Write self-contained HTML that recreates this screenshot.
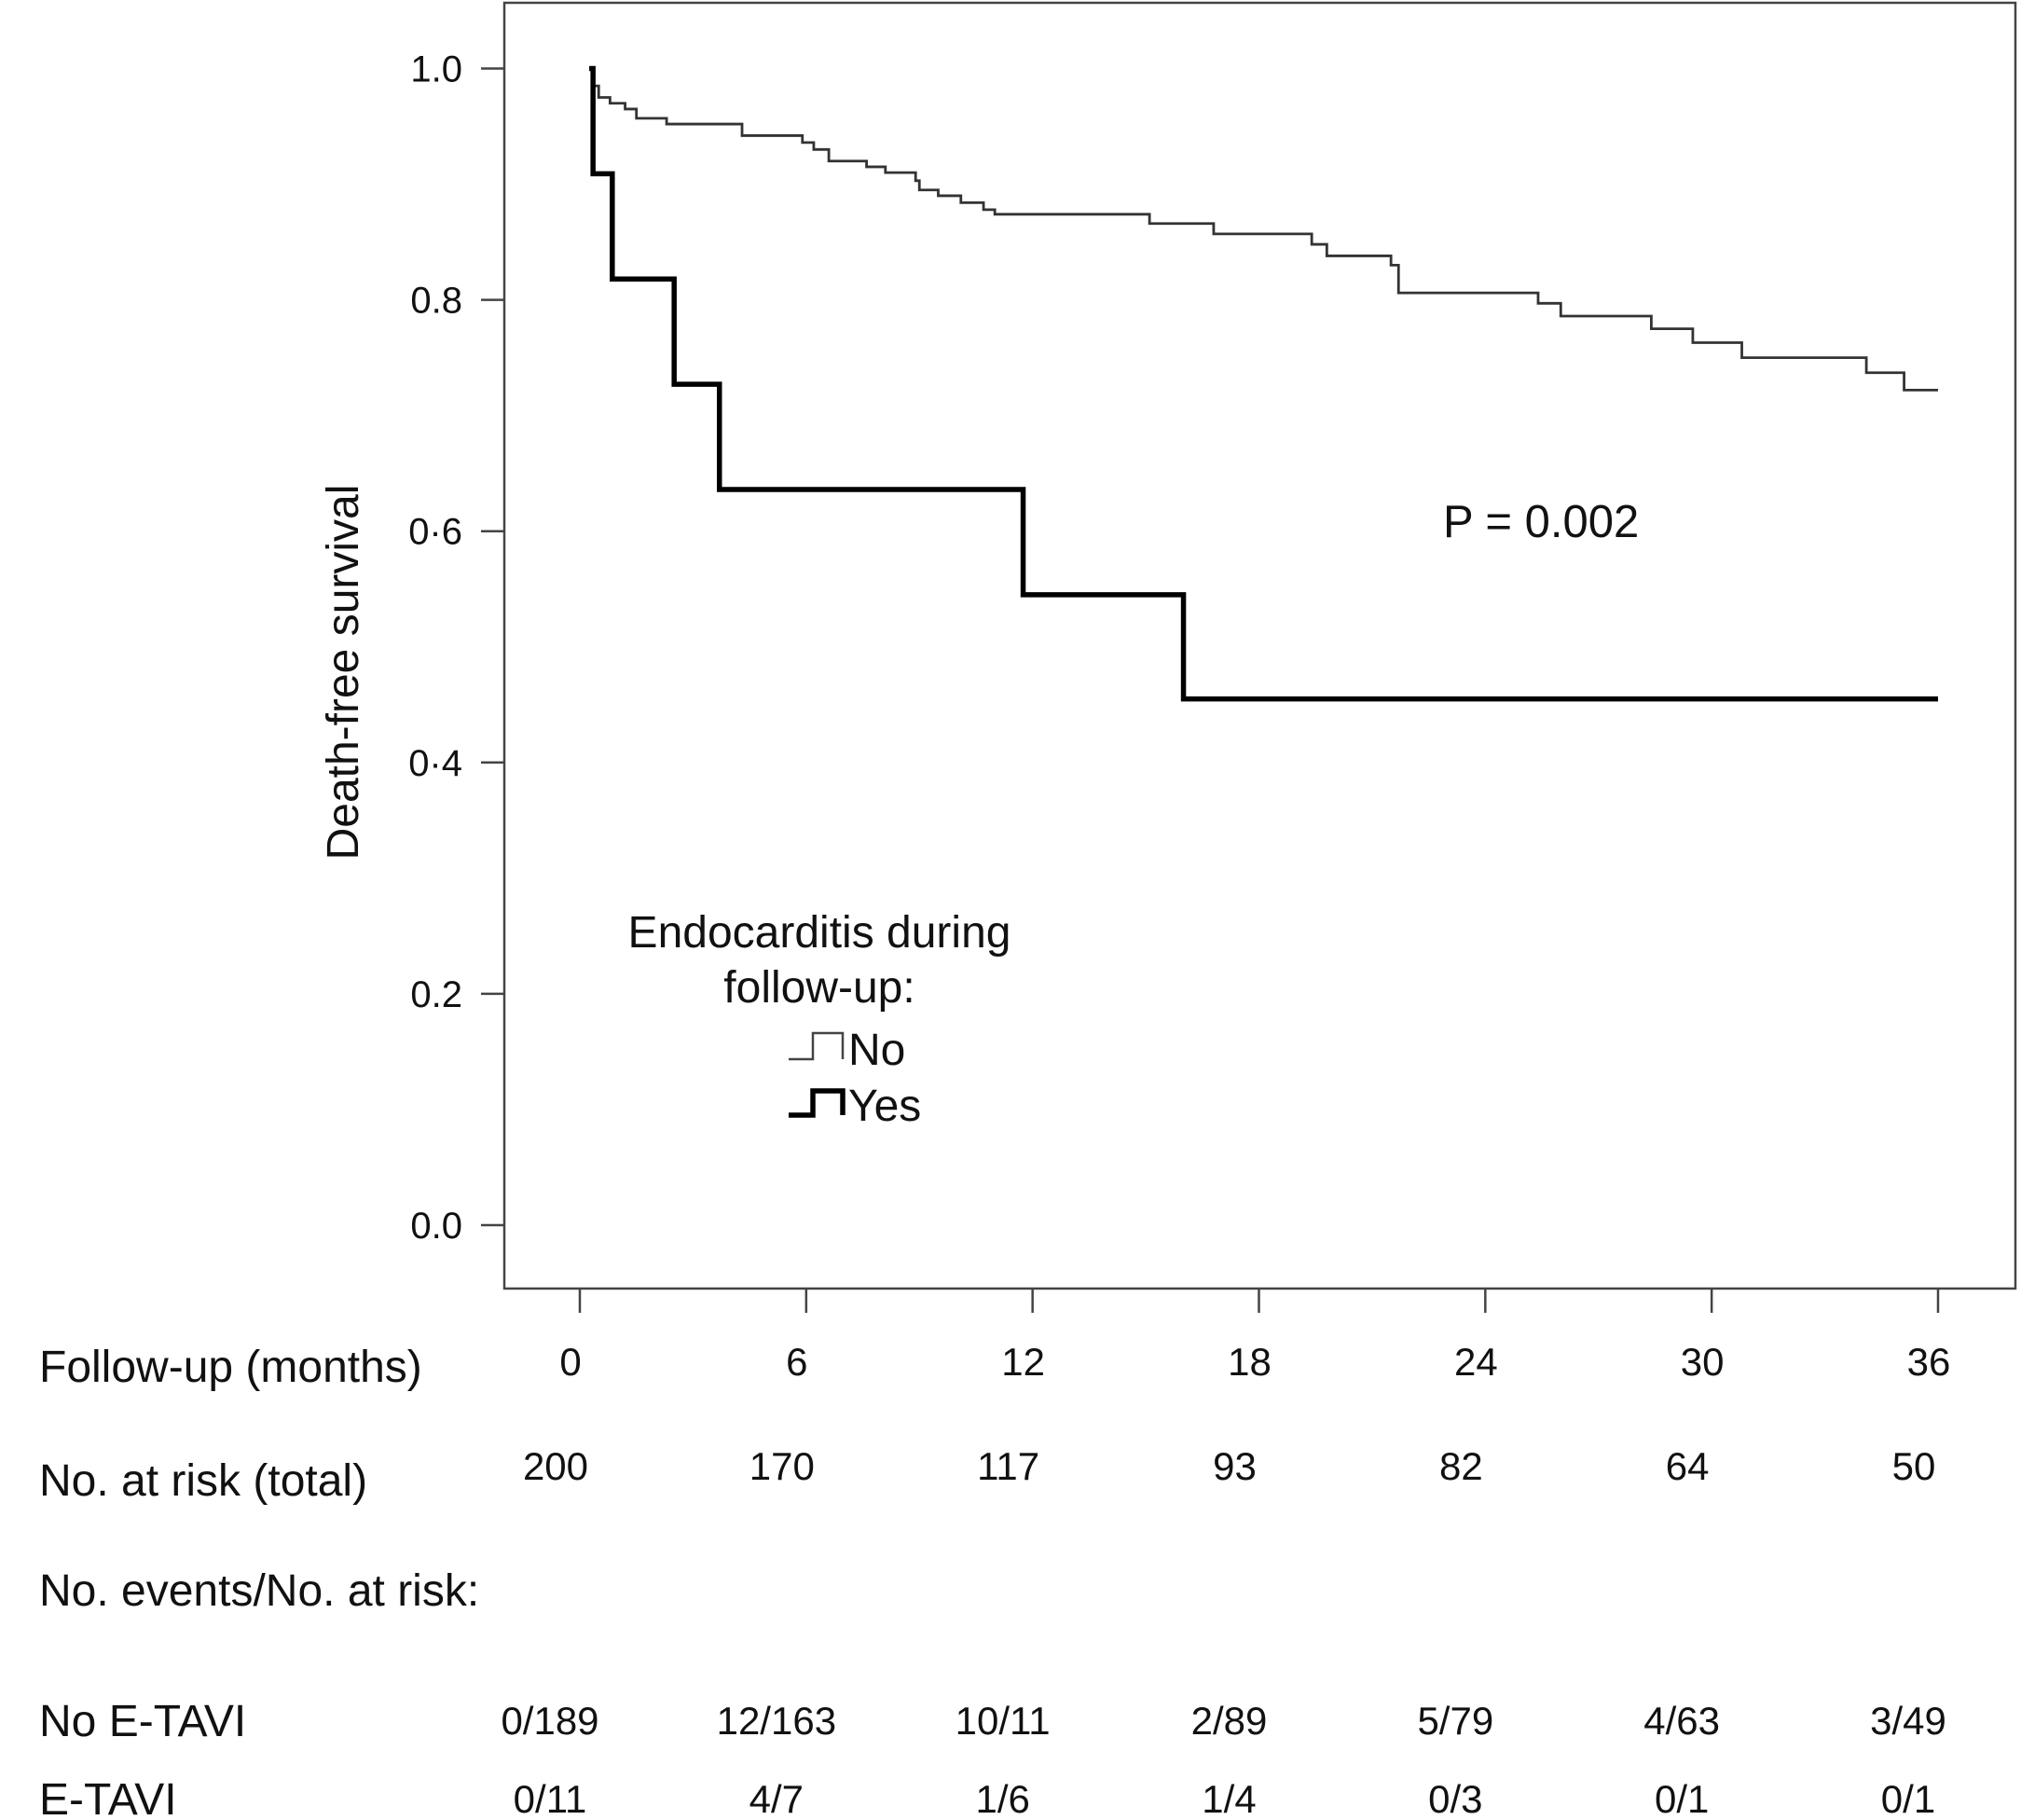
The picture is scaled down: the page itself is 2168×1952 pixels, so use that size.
<!DOCTYPE html>
<html><head><meta charset="utf-8"><style>
html,body{margin:0;padding:0;background:#fff;}
svg{display:block;font-family:"Liberation Sans",Arial,sans-serif;}
</style></head><body>
<svg id="chart" width="2168" height="1952" viewBox="0 0 2168 1952">
<rect x="541" y="3" width="1621" height="1379" fill="none" stroke="#444" stroke-width="2.5"/>
<g id="yaxis"></g>
<g id="xaxis"></g>
<g id="curves"></g>
<text x="0" y="0" transform="translate(384,721) rotate(-90)" text-anchor="middle" font-size="48" fill="#111">Death-free survival</text>
<text x="1548" y="576" font-size="49" fill="#111">P = 0.002</text>
<g>
<text x="879" y="1016" text-anchor="middle" font-size="48" fill="#111">Endocarditis during</text>
<text x="879" y="1075" text-anchor="middle" font-size="48" fill="#111">follow-up:</text>
<path d="M846 1136 H872 V1108 H904 V1136" fill="none" stroke="#444" stroke-width="2.5"/>
<text x="910" y="1142" font-size="48" fill="#111">No</text>
<path d="M846 1196 H872 V1170 H904 V1196" fill="none" stroke="#000" stroke-width="5.5"/>
<text x="910" y="1202" font-size="48" fill="#111">Yes</text>
</g>
<g id="table" font-size="42" fill="#111"></g>
<text x="42" y="1482" font-size="48" fill="#111">Follow-up (months)</text>
<text x="42" y="1604" font-size="48" fill="#111">No. at risk (total)</text>
<text x="42" y="1722" font-size="48" fill="#111">No. events/No. at risk:</text>
<text x="42" y="1862" font-size="48" fill="#111">No E-TAVI</text>
<text x="42" y="1946" font-size="48" fill="#111">E-TAVI</text>
</svg>
<script>
const xTicks = [0, 6, 12, 18, 24, 30, 36];
const yTicks = [0, 0.2, 0.4, 0.6, 0.8, 1.0];
const yTickLabels = ["0.0", "0.2", "0·4", "0·6", "0.8", "1.0"];
const atRisk = ["200", "170", "117", "93", "82", "64", "50"];
const noEtavi = ["0/189", "12/163", "10/11", "2/89", "5/79", "4/63", "3/49"];
const eTavi = ["0/11", "4/7", "1/6", "1/4", "0/3", "0/1", "0/1"];
const noTimes = [0.25, 0.35, 0.5, 0.8, 1.2, 1.5, 2.3, 4.3, 5.9, 6.2, 6.6, 7.6, 8.1, 8.9, 9.0, 9.5, 10.1, 10.7, 11.0, 15.1, 16.8, 19.4, 19.8, 21.5, 21.7, 25.4, 26.0, 28.4, 29.5, 30.8, 34.1, 35.1];
const noValues = [1.0, 0.985, 0.975, 0.97, 0.965, 0.957, 0.952, 0.942, 0.936, 0.93, 0.92, 0.915, 0.91, 0.903, 0.895, 0.89, 0.884, 0.878, 0.874, 0.866, 0.857, 0.848, 0.838, 0.83, 0.806, 0.797, 0.786, 0.775, 0.763, 0.75, 0.737, 0.722];
const yesTimes = [0.25, 0.35, 0.86, 2.5, 3.7, 11.75, 16.0];
const yesValues = [1.0, 0.909, 0.818, 0.727, 0.636, 0.545, 0.455];
const endTime = 36;

const NS = "http://www.w3.org/2000/svg";
const xs = t => 622 + (t / 36) * (2079 - 622);
const ys = v => 1314 - v * (1314 - 73.5);
function mk(tag, attrs, parent) {
  const e = document.createElementNS(NS, tag);
  for (const k in attrs) e.setAttribute(k, attrs[k]);
  parent.appendChild(e);
  return e;
}
const yg = document.getElementById('yaxis');
yTicks.forEach((v, i) => {
  const l = mk('line', {x1: 516, x2: 541, y1: ys(v), y2: ys(v), stroke: '#444', 'stroke-width': 2.5}, yg);
  
  
  const t = mk('text', {x: 496, y: ys(v) + 14, 'text-anchor': 'end', 'font-size': 40, fill: '#111'}, yg);
  t.textContent = yTickLabels[i];
  
  
});
const xg = document.getElementById('xaxis');
const tab = document.getElementById('table');
xTicks.forEach((v, i) => {
  const l = mk('line', {x1: xs(v), x2: xs(v), y1: 1382, y2: 1408, stroke: '#444', 'stroke-width': 2.5}, xg);
  
  
  const cx = xs(v) - 10;
  const t = mk('text', {x: cx, y: 1475, 'text-anchor': 'middle', 'font-size': 42, fill: '#111'}, xg);
  t.textContent = String(v);
  
  
  const r = mk('text', {x: cx - 16, y: 1587, 'text-anchor': 'middle'}, tab);
  r.textContent = atRisk[i];
  
  
  const n = mk('text', {x: cx - 22, y: 1860, 'text-anchor': 'middle'}, tab);
  n.textContent = noEtavi[i];
  
  
  const e = mk('text', {x: cx - 22, y: 1944, 'text-anchor': 'middle'}, tab);
  e.textContent = eTavi[i];
  
  
});
function stepPath(times, vals) {
  let d = 'M' + xs(times[0]) + ' ' + ys(vals[0]);
  for (let i = 1; i < times.length; i++) {
    d += ' H' + xs(times[i]) + ' V' + ys(vals[i]);
  }
  d += ' H' + xs(endTime);
  return d;
}
const cg = document.getElementById('curves');
const pNo = mk('path', {d: stepPath(noTimes, noValues), fill: 'none', stroke: '#333', 'stroke-width': 2.8}, cg);


const pYes = mk('path', {d: stepPath(yesTimes, yesValues), fill: 'none', stroke: '#000', 'stroke-width': 5.5}, cg);


</script>
</body></html>
